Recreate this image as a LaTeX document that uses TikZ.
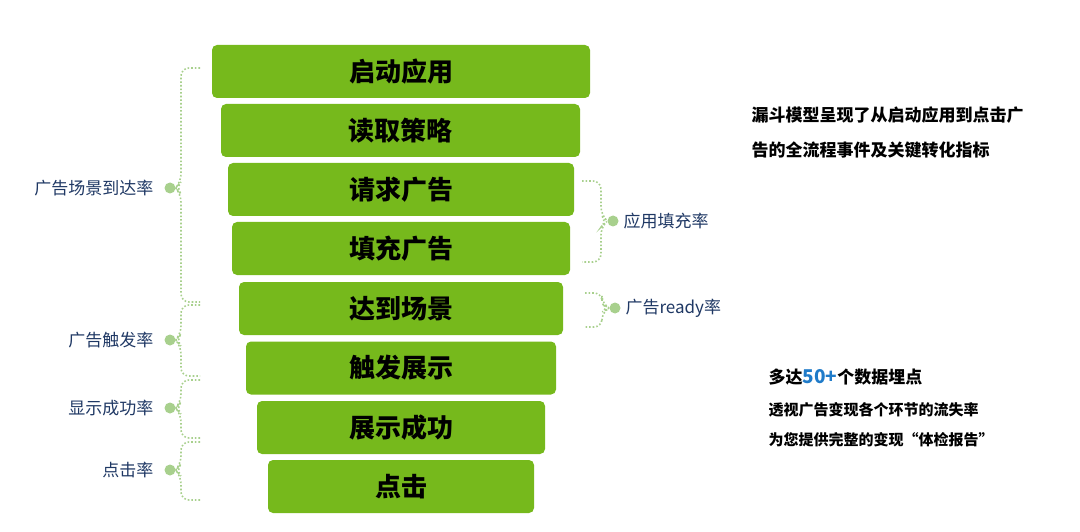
\documentclass[tikz,border=0pt]{standalone}
\usepackage{fontspec}
\setmainfont{Noto Sans CJK SC}
\usetikzlibrary{calc}
\definecolor{funnelgreen}{HTML}{76B91C}
\definecolor{dotgreen}{HTML}{A8D08D}
\definecolor{labelblue}{HTML}{1F3864}
\definecolor{numblue}{HTML}{1F7BC9}
\begin{document}
\begin{tikzpicture}[x=1pt,y=-1pt,
stage/.style={rectangle, rounded corners=5pt, fill=funnelgreen, draw=none, font=\fontsize{26}{28}\selectfont\bfseries, text=black, minimum height=53pt},
rate/.style={font=\fontsize{17}{20}\selectfont, text=labelblue},
brace_style/.style={dotgreen, line width=1.6pt, dotted, rounded corners=8pt},
dot_style/.style={circle, fill=dotgreen, inner sep=0pt, minimum size=11pt},
note/.style={font=\fontsize{17}{20}\selectfont\bfseries, text=black, anchor=west},
]
\useasboundingbox (0,0) rectangle (1080,532);

% funnel stages
\node[stage, minimum width=378pt] (s1) at (401,71.5) {启动应用};
\node[stage, minimum width=359pt] (s2) at (400.5,130.5) {读取策略};
\node[stage, minimum width=346pt] (s3) at (401,189.5) {请求广告};
\node[stage, minimum width=338pt] (s4) at (401,248.5) {填充广告};
\node[stage, minimum width=324pt] (s5) at (401,308.5) {达到场景};
\node[stage, minimum width=310pt] (s6) at (401,368) {触发展示};
\node[stage, minimum width=288pt] (s7) at (401,427.5) {展示成功};
\node[stage, minimum width=266pt] (s8) at (401,486.5) {点击};

% left rates
\node[dot_style] (d1) at (170,188) {};
\node[rate, anchor=east] (r1) at (157,188) {广告场景到达率};
\node[dot_style] (d2) at (170,340) {};
\node[rate, anchor=east] (r2) at (157,340) {广告触发率};
\node[dot_style] (d3) at (170,408) {};
\node[rate, anchor=east] (r3) at (157,408) {显示成功率};
\node[dot_style] (d4) at (170,470) {};
\node[rate, anchor=east] (r4) at (157,470) {点击率};

\draw[brace_style] (200,68) -| (181,182) -- (d1.east) -- (181,194) |- (200,302);
\draw[brace_style] (200,305) -| (181,334) -- (d2.east) -- (181,346) |- (200,376);
\draw[brace_style] (200,380) -| (181,402) -- (d3.east) -- (181,414) |- (200,438);
\draw[brace_style] (200,442) -| (181,464) -- (d4.east) -- (181,476) |- (200,500);

% right rates
\node[dot_style] (d5) at (613,221) {};
\node[rate, anchor=west] (r5) at (620,221) {应用填充率};
\node[dot_style] (d6) at (615,308) {};
\node[rate, anchor=west] (r6) at (622,308) {广告ready率};

\draw[brace_style] (582,181) -| (601,215) -- (d5.west) -- (601,227) |- (582,262);
\draw[brace_style] (585,293) -| (602,304) -- (d6.west) -- (602,312) |- (585,327);

% notes
\node[note] (n1) at (748,115) {漏斗模型呈现了从启动应用到点击广};
\node[note] (n2) at (748,150) {告的全流程事件及关键转化指标};
\node[note] (n3) at (765,377) {多达{\fontsize{19}{20}\selectfont\color{numblue}50+}个数据埋点};
\node[note, font=\fontsize{15}{18}\selectfont\bfseries] (n4) at (765,410) {透视广告变现各个环节的流失率};
\node[note, font=\fontsize{15}{18}\selectfont\bfseries] (n5) at (765,440) {为您提供完整的变现“体检报告”};
\end{tikzpicture}
\end{document}
